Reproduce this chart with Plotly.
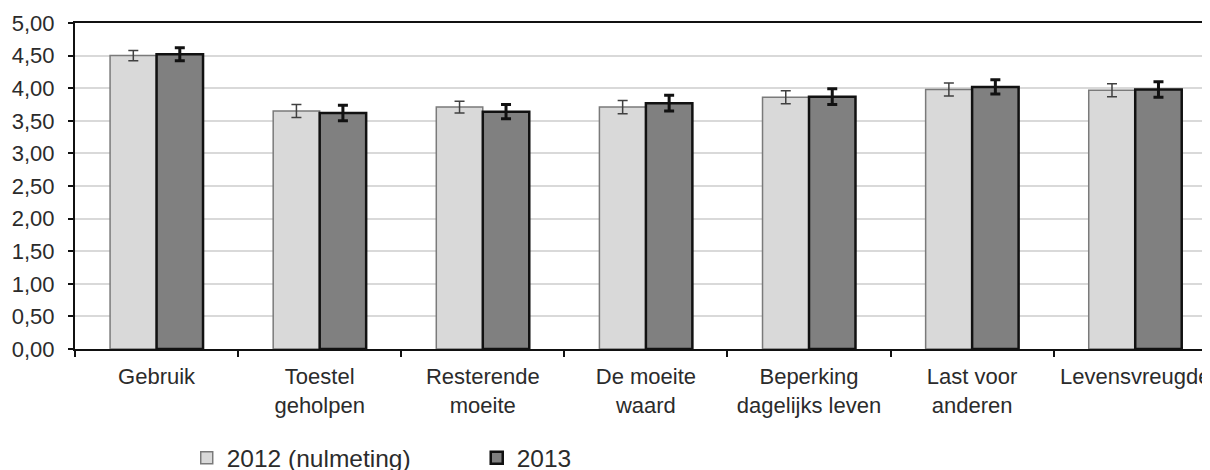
import plotly.graph_objects as go

categories = ["Gebruik", "Toestel<br>geholpen", "Resterende<br>moeite", "De moeite<br>waard",
              "Beperking<br>dagelijks leven", "Last voor<br>anderen", "Levensvreugde"]
series_names = ["2012 (nulmeting)", "2013"]
values_2012 = [4.50, 3.65, 3.71, 3.71, 3.86, 3.98, 3.97]
values_2013 = [4.52, 3.62, 3.64, 3.77, 3.87, 4.02, 3.98]
err_2012 = [0.08, 0.10, 0.09, 0.10, 0.10, 0.10, 0.10]
err_2013 = [0.10, 0.12, 0.11, 0.12, 0.12, 0.11, 0.12]
y_ticks = [0, 0.5, 1, 1.5, 2, 2.5, 3, 3.5, 4, 4.5, 5]

FONT = "Liberation Sans, Arial, sans-serif"
TXT = "#2b2b2b"

fig = go.Figure()
fig.add_trace(go.Bar(
    x=categories, y=values_2012, name=series_names[0],
    marker=dict(color="#d9d9d9", line=dict(color="#7a7a7a", width=1.5)),
    error_y=dict(type="data", array=err_2012, color="#404040", thickness=1.5, width=5),
))
fig.add_trace(go.Bar(
    x=categories, y=values_2013, name=series_names[1],
    marker=dict(color="#808080", line=dict(color="#111111", width=2.5)),
    error_y=dict(type="data", array=err_2013, color="#111111", thickness=3, width=5),
))

fig.update_layout(
    width=1202, height=462,
    margin=dict(l=67, r=0, t=15, b=121),
    paper_bgcolor="white", plot_bgcolor="white",
    barmode="group", bargap=0.43, bargroupgap=0,
    separators=",.",
    font=dict(family=FONT, size=22, color=TXT),
    showlegend=True,
    legend=dict(orientation="h", x=0.0987, xanchor="left", yref="container", y=0.075, yanchor="top",
                font=dict(size=24.5, color=TXT), entrywidth=245, entrywidthmode="pixels",
                bgcolor="rgba(0,0,0,0)", itemwidth=30, traceorder="normal"),
)
fig.update_xaxes(
    type="category", range=[-0.5, 6.44],
    showline=True, linecolor="#111111", linewidth=2, mirror=True,
    ticks="outside", tickson="boundaries", ticklen=6, tickcolor="#111111", tickwidth=1.5,
    showgrid=False, ticklabeloverflow="allow", ticklabelstandoff=7,
    tickfont=dict(size=22, color=TXT),
)
fig.update_yaxes(
    range=[0, 5], tickvals=y_ticks, tickformat=".2f",
    showline=True, linecolor="#111111", linewidth=2,
    ticks="outside", ticklen=5, tickcolor="#111111", tickwidth=1.5,
    showgrid=True, gridcolor="#d9d9d9", gridwidth=1.5, zeroline=False,
    ticklabelstandoff=9,
    tickfont=dict(size=22, color=TXT),
)

fig.write_html("out.html")
